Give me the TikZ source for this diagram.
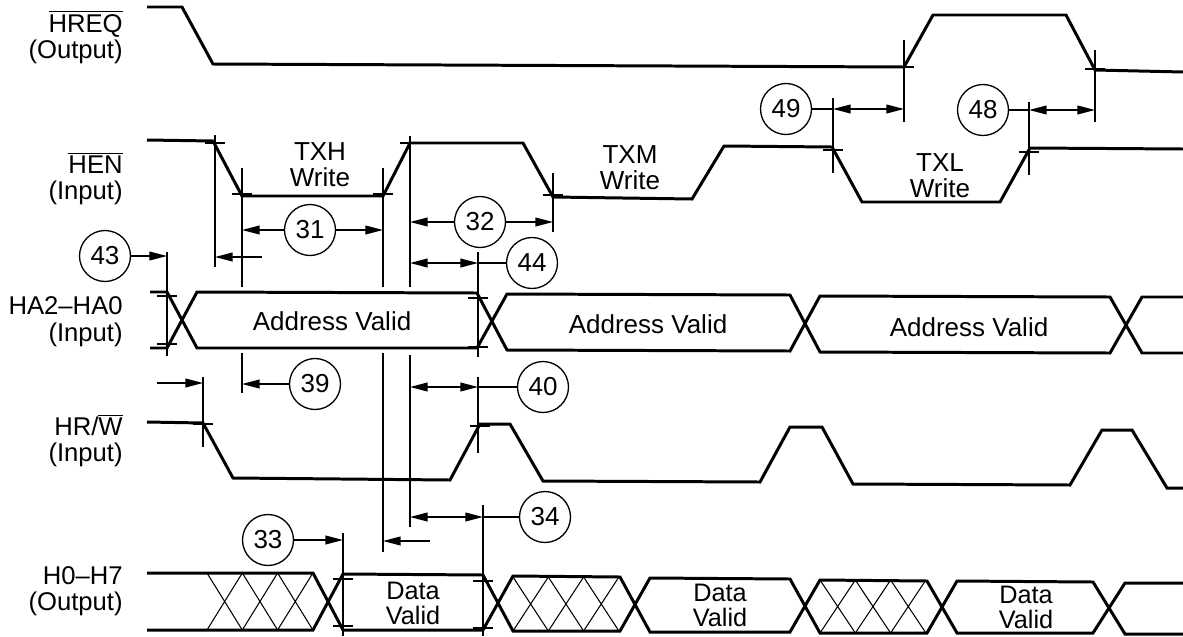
\documentclass[tikz,border=0pt]{standalone}
\usepackage{fontspec}
\setmainfont{Liberation Sans}
\usetikzlibrary{arrows.meta}

\begin{document}
\begin{tikzpicture}[x=0.02cm,y=-0.02cm,
    wave/.style={line width=1.7pt,line join=miter},
    guide/.style={line width=0.75pt},
    hatch/.style={line width=0.6pt},
    dimarr/.style={line width=0.75pt,-{Triangle[length=10pt,width=5pt]}},
    dimboth/.style={line width=0.75pt,{Triangle[length=10pt,width=5pt]}-{Triangle[length=10pt,width=5pt]}},
    num/.style={draw,circle,line width=0.75pt,minimum size=1.02cm,inner sep=0pt,font=\fontsize{14.8}{16}\selectfont},
    txt/.style={align=center,font=\fontsize{14.8}{14.7}\selectfont},
    datatxt/.style={align=center,font=\fontsize{14.4}{14.2}\selectfont},
    siglabel/.style={anchor=base east,inner sep=0pt,font=\fontsize{14.6}{16}\selectfont}]

    \useasboundingbox (0,0) rectangle (1183,636);

    % Signal names
    \foreach \yy/\lbl in {32/{$\overline{\mbox{HREQ}}$}, 58/(Output), 173/{$\overline{\mbox{HEN}}$}, 199/(Input),
                          314/HA2--HA0, 341/(Input), 435/{HR/$\overline{\mbox{W}}$}, 461/(Input),
                          584/H0--H7, 610/(Output)}
        \node[siglabel] (l\yy) at (123,\yy) {\lbl};

    % Waveforms
    \draw[wave] (147,7) -- (182,7) -- (213,64) -- (904,67) -- (933,15) -- (1066,15) -- (1095,70) -- (1183,72);
    \draw[wave] (147,140) -- (213,141) -- (242,196) -- (383,196) -- (410,143) -- (523,143) -- (553,197)
                -- (692,199) -- (724,146) -- (832,147) -- (862,202) -- (1000,202) -- (1030,148) -- (1183,149);
    \draw[wave] (147,422) -- (203,423) -- (233,478) -- (450,480) -- (480,424) -- (510,424) -- (543,481)
                -- (760,482) -- (790,427) -- (822,427) -- (853,484) -- (1070,485) -- (1102,430) -- (1132,430)
                -- (1167,488) -- (1183,488);

    % Address bus
    \draw[wave] (150,292) -- (167,292) -- (197,348) -- (477,348) -- (507,294) -- (790,295) -- (820,352)
                -- (1110,353) -- (1142,297) -- (1183,297);
    \draw[wave] (150,348) -- (167,348) -- (197,292) -- (477,293) -- (507,350) -- (790,351) -- (820,296)
                -- (1110,297) -- (1142,353) -- (1183,353);

    % Data bus
    \draw[wave] (147,573) -- (313,573) -- (343,630) -- (483,630) -- (513,576) -- (620,577) -- (650,632)
                -- (790,632) -- (820,580) -- (927,581) -- (957,633) -- (1093,633) -- (1125,583) -- (1183,583);
    \draw[wave] (147,630) -- (313,630) -- (343,574) -- (483,575) -- (513,631) -- (620,631) -- (650,578)
                -- (790,579) -- (820,633) -- (927,633) -- (957,581) -- (1093,582) -- (1125,634) -- (1183,634);
    \foreach \xa/\ya/\yb in {207/573/630, 513/577/631, 820/580/633}
        \foreach \k in {0,1,2}
            \draw[hatch] (\xa+35.3*\k,\ya) -- (\xa+35.3*\k+35.3,\yb)
                         (\xa+35.3*\k,\yb) -- (\xa+35.3*\k+35.3,\ya);

    % Bus texts
    \node[txt] (av1) at (332,321) {Address Valid};
    \node[txt] (av2) at (648,324) {Address Valid};
    \node[txt] (av3) at (969,327) {Address Valid};
    \node[datatxt] (dv1) at (413,603) {Data\\Valid};
    \node[datatxt] (dv2) at (720,605) {Data\\Valid};
    \node[datatxt] (dv3) at (1026,607) {Data\\Valid};
    \node[txt] (txh) at (320,165) {TXH\\Write};
    \node[txt] (txm) at (630,168) {TXM\\Write};
    \node[txt] (txl) at (940,176) {TXL\\Write};

    % Guide lines
    \foreach \xx/\ya/\yb in {215/135/267, 242/168/287, 383/168/287, 383/353/552, 410/136/287, 410/355/527,
                             553/173/232, 167/252/356, 478/252/357, 242/353/393, 203/377/447, 478/377/453,
                             343/533/636, 483/505/636, 833/98/173, 1029/102/175, 904/40/122, 1095/50/122}
        \draw[guide] (\xx,\ya) -- (\xx,\yb);

    % Ticks
    \foreach \xx/\yy in {215/143, 242/194, 383/194, 410/143, 553/195, 833/150, 1029/152, 904/67, 1095/69,
                         167/296, 167/344, 478/298, 478/347, 203/424, 480/426, 343/579, 343/626, 483/581, 483/628}
        \draw[guide] (\xx-10,\yy) -- (\xx+10,\yy);

    % Timing numbers
    \node[num] (c43) at (105,256) {43};
    \node[num] (c31) at (310,230) {31};
    \node[num] (c32) at (480,222) {32};
    \node[num] (c44) at (532,263) {44};
    \node[num] (c39) at (315,384) {39};
    \node[num] (c40) at (543,387) {40};
    \node[num] (c33) at (268,540) {33};
    \node[num] (c34) at (545,517) {34};
    \node[num] (c49) at (786,109) {49};
    \node[num] (c48) at (983,110) {48};

    % Arrow ends
    \coordinate (e43) at (167,256);
    \coordinate (s43b) at (262,257);
    \coordinate (e43b) at (215,257);
    \coordinate (e31l) at (242,230);
    \coordinate (e31r) at (383,230);
    \coordinate (e32l) at (410,222);
    \coordinate (e32r) at (553,222);
    \coordinate (e44l) at (410,263);
    \coordinate (e44r) at (478,263);
    \coordinate (e39) at (242,384);
    \coordinate (s39b) at (157,383);
    \coordinate (e39b) at (203,383);
    \coordinate (e40l) at (410,387);
    \coordinate (e40r) at (478,387);
    \coordinate (e33) at (343,540);
    \coordinate (s33b) at (430,541);
    \coordinate (e33b) at (383,541);
    \coordinate (e34l) at (410,517);
    \coordinate (e34r) at (483,517);
    \coordinate (e49l) at (833,109);
    \coordinate (e49r) at (904,109);
    \coordinate (e48l) at (1029,110);
    \coordinate (e48r) at (1095,110);

    % Dimension arrows
    \draw[dimarr] (c43) -- (e43);
    \draw[dimarr] (s43b) -- (e43b);
    \draw[dimarr] (c31) -- (e31l);
    \draw[dimarr] (c31) -- (e31r);
    \draw[dimarr] (c32) -- (e32l);
    \draw[dimarr] (c32) -- (e32r);
    \draw[dimboth] (e44l) -- (e44r);
    \draw[guide] (e44r) -- (c44);
    \draw[dimarr] (c39) -- (e39);
    \draw[dimarr] (s39b) -- (e39b);
    \draw[dimboth] (e40l) -- (e40r);
    \draw[guide] (e40r) -- (c40);
    \draw[dimarr] (c33) -- (e33);
    \draw[dimarr] (s33b) -- (e33b);
    \draw[dimboth] (e34l) -- (e34r);
    \draw[guide] (e34r) -- (c34);
    \draw[guide] (c49) -- (e49l);
    \draw[dimboth] (e49l) -- (e49r);
    \draw[guide] (c48) -- (e48l);
    \draw[dimboth] (e48l) -- (e48r);

\end{tikzpicture}
\end{document}
